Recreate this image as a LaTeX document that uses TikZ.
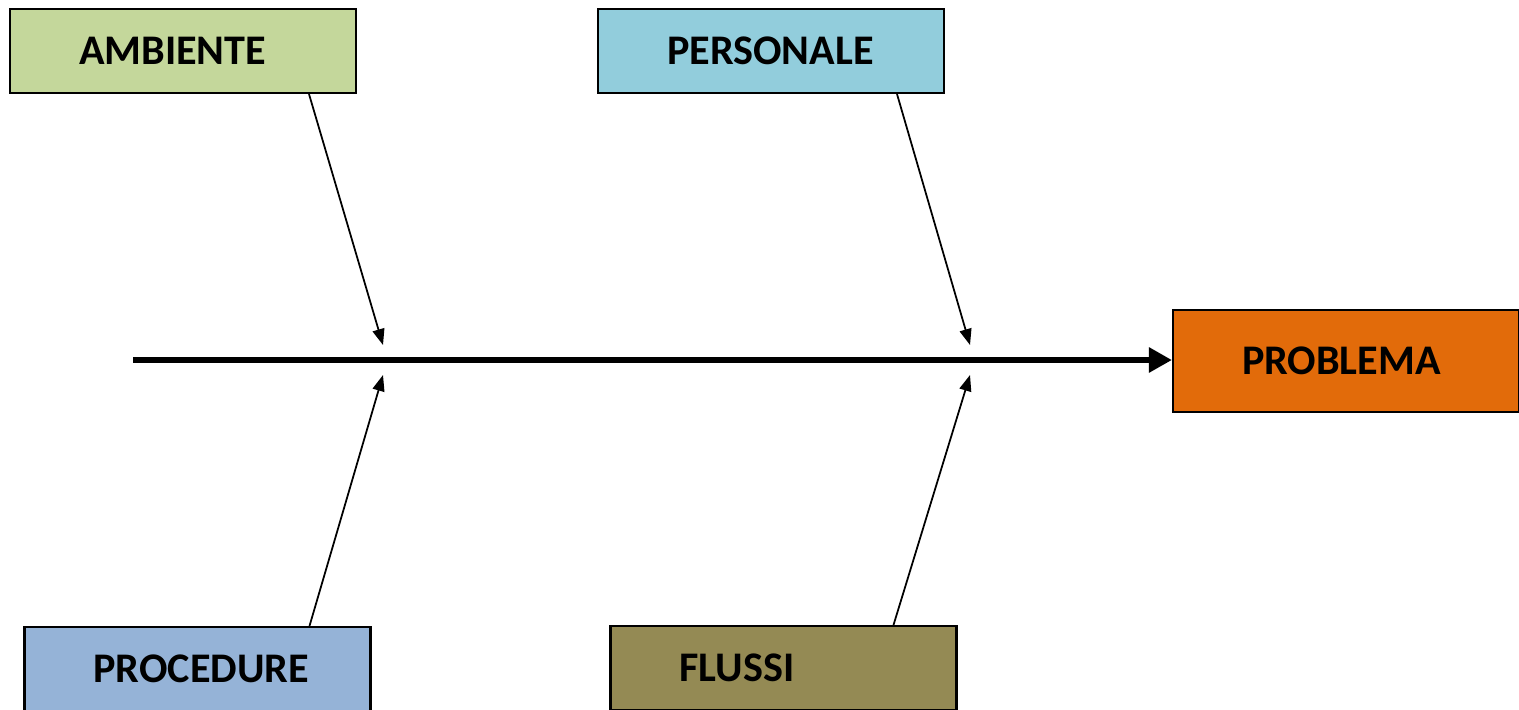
\documentclass[tikz,border=0pt]{standalone}
\usepackage{fontspec}
\setmainfont{Carlito}
\usetikzlibrary{arrows.meta}

\definecolor{ambgreen}{HTML}{C4D79B}
\definecolor{perscyan}{HTML}{92CDDC}
\definecolor{proborange}{HTML}{E26B0A}
\definecolor{procblue}{HTML}{95B3D7}
\definecolor{flussiolive}{HTML}{948A54}

\begin{document}
\begin{tikzpicture}[
    cause/.style = {draw = black, line width = 0.6pt, minimum height = 0.84cm,
      text width = 2.08cm, inner xsep = 0.69cm, inner ysep = 0pt, align = left,
      font = \fontsize{12}{14}\selectfont\bfseries},
    bone/.style = {line width = 0.5pt, -{Triangle[length = 0.16cm, width = 0.12cm]}}
  ]

      \useasboundingbox (0, 0) rectangle (15.19, 7.09);

      \node[cause, fill = ambgreen] (amb) at (1.83, 6.58) {AMBIENTE};
      \node[cause, fill = perscyan] (pers) at (7.71, 6.58) {PERSONALE};
      \node[cause, fill = procblue] (proc) at (1.975, 0.40) {PROCEDURE};
      \node[cause, fill = flussiolive] (flussi) at (7.835, 0.41) {FLUSSI};
      \node[cause, fill = proborange, minimum height = 1.02cm] (prob) at (13.46, 3.48) {PROBLEMA};

      \coordinate (tail) at (1.33, 3.49);
      \draw[line width = 1.7pt, -{Triangle[length = 0.23cm, width = 0.24cm]}] (tail) -- (tail -| prob.west);

      \draw[bone] ([xshift = 1.26cm] amb.south) -- (3.83, 3.64);
      \draw[bone] ([xshift = 1.26cm] pers.south) -- (9.70, 3.64);
      \draw[bone] ([xshift = 1.12cm] proc.north) -- (3.83, 3.34);
      \draw[bone] ([xshift = 1.10cm] flussi.north) -- (9.70, 3.34);

    \end{tikzpicture}
\end{document}
